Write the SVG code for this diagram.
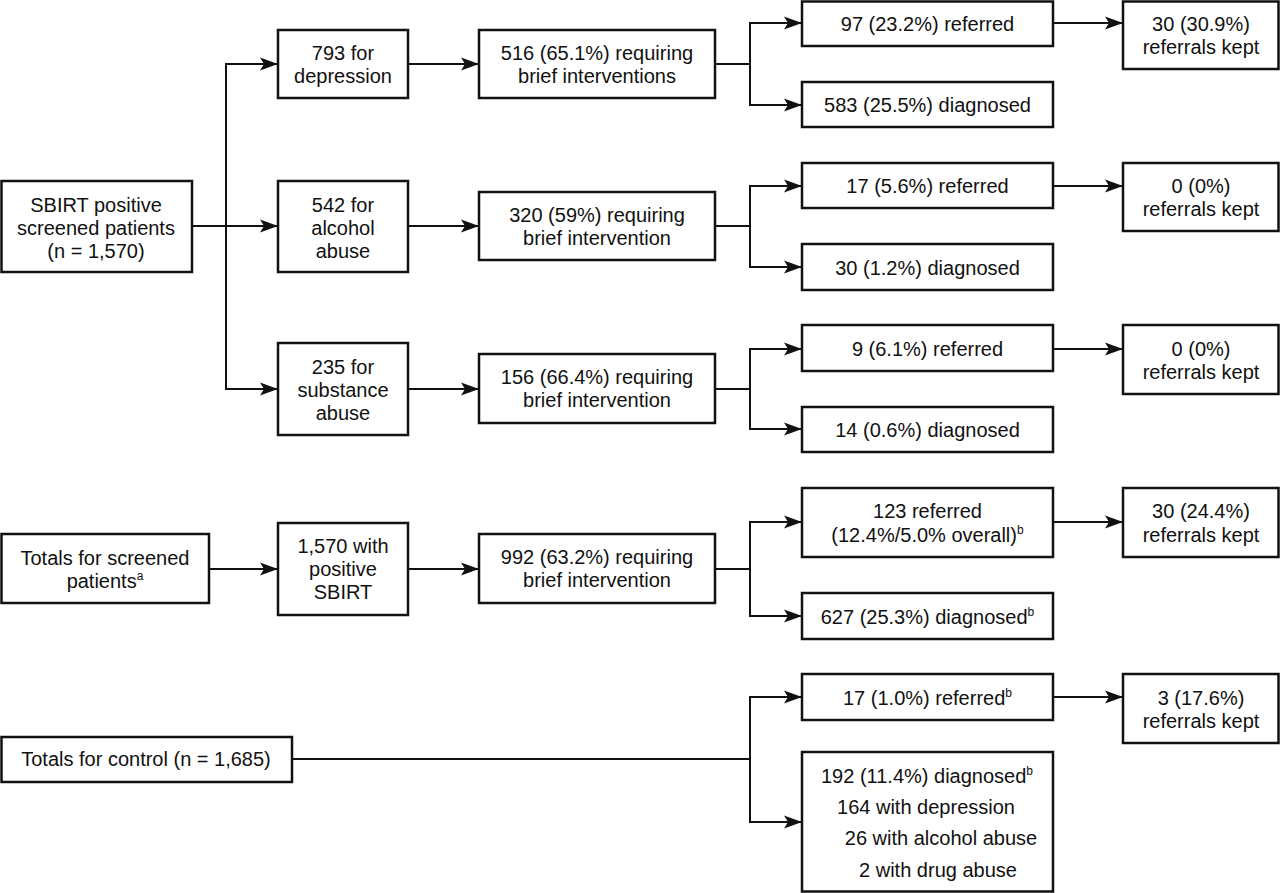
<svg xmlns="http://www.w3.org/2000/svg" width="1280" height="893" viewBox="0 0 1280 893">
<style>
.box{fill:#fff;stroke:#111;stroke-width:2.5}
.t{font-family:"Liberation Sans",Arial,sans-serif;font-size:20px;fill:#111;text-anchor:middle}
.c{fill:none;stroke:#111;stroke-width:2}
.a{fill:none;stroke:#111;stroke-width:2;marker-end:url(#ah)}
.sup{font-size:12px}
</style>
<defs>
<marker id="ah" markerUnits="userSpaceOnUse" markerWidth="19" markerHeight="14" refX="18" refY="7" orient="auto">
<path d="M0,0.5 L18,7 L0,13.5 L4,7 z" fill="#111"/>
</marker>
</defs>
<rect width="1280" height="893" fill="#fff"/>
<g id="connectors">
<path class="a" d="M192,226 H278"/>
<path class="c" stroke-linecap="square" d="M226,64 V389"/>
<path class="a" d="M226,64 H278"/>
<path class="a" d="M226,389 H278"/>
<path class="a" d="M209,569 H278"/>
<path class="a" d="M408,64 H479"/>
<path class="a" d="M408,226 H479"/>
<path class="a" d="M408,389 H479"/>
<path class="a" d="M408,569 H479"/>
<path class="c" d="M715,64 H750"/>
<path class="c" stroke-linecap="square" d="M750,23 V105"/>
<path class="a" d="M750,23 H802"/>
<path class="a" d="M750,105 H802"/>
<path class="c" d="M715,226 H750"/>
<path class="c" stroke-linecap="square" d="M750,186 V267"/>
<path class="a" d="M750,186 H802"/>
<path class="a" d="M750,267 H802"/>
<path class="c" d="M715,389 H750"/>
<path class="c" stroke-linecap="square" d="M750,349 V429"/>
<path class="a" d="M750,349 H802"/>
<path class="a" d="M750,429 H802"/>
<path class="c" d="M715,569 H750"/>
<path class="c" stroke-linecap="square" d="M750,522 V616"/>
<path class="a" d="M750,522 H802"/>
<path class="a" d="M750,616 H802"/>
<path class="c" d="M292,759 H750"/>
<path class="c" stroke-linecap="square" d="M750,697 V822"/>
<path class="a" d="M750,697 H802"/>
<path class="a" d="M750,822 H802"/>
<path class="a" d="M1053,23 H1123"/>
<path class="a" d="M1053,186 H1123"/>
<path class="a" d="M1053,349 H1123"/>
<path class="a" d="M1053,522 H1123"/>
<path class="a" d="M1053,697 H1123"/>
</g>
<g id="sbirt">
<rect class="box" x="1.5" y="181" width="190.5" height="91"/>
<text class="t" x="96"><tspan x="96" y="212">SBIRT positive</tspan><tspan x="96" y="235">screened patients</tspan><tspan x="96" y="258">(n = 1,570)</tspan></text>
</g>
<g id="depression">
<rect class="box" x="278" y="30" width="130" height="68"/>
<text class="t"><tspan x="343" y="60">793 for</tspan><tspan x="343" y="83">depression</tspan></text>
</g>
<g id="alcohol">
<rect class="box" x="278" y="181" width="130" height="91"/>
<text class="t"><tspan x="343" y="212">542 for</tspan><tspan x="343" y="235">alcohol</tspan><tspan x="343" y="258">abuse</tspan></text>
</g>
<g id="substance">
<rect class="box" x="278" y="343" width="130" height="92"/>
<text class="t"><tspan x="343" y="374">235 for</tspan><tspan x="343" y="397">substance</tspan><tspan x="343" y="420">abuse</tspan></text>
</g>
<g id="totals-screened">
<rect class="box" x="1.5" y="534" width="207.5" height="69"/>
<text class="t"><tspan x="105" y="565">Totals for screened</tspan><tspan x="105" y="588">patients<tspan class="sup" dy="-8">a</tspan></tspan></text>
</g>
<g id="positive-sbirt">
<rect class="box" x="278" y="523" width="130" height="92"/>
<text class="t"><tspan x="343" y="553">1,570 with</tspan><tspan x="343" y="576">positive</tspan><tspan x="343" y="599">SBIRT</tspan></text>
</g>
<g id="control">
<rect class="box" x="1.5" y="737" width="290.5" height="45"/>
<text class="t" x="146" y="766">Totals for control (n = 1,685)</text>
</g>
<g id="bi-depression">
<rect class="box" x="479" y="30" width="236" height="68"/>
<text class="t"><tspan x="597" y="60">516 (65.1%) requiring</tspan><tspan x="597" y="83">brief interventions</tspan></text>
</g>
<g id="bi-alcohol">
<rect class="box" x="479" y="192" width="236" height="68"/>
<text class="t"><tspan x="597" y="222">320 (59%) requiring</tspan><tspan x="597" y="245">brief intervention</tspan></text>
</g>
<g id="bi-substance">
<rect class="box" x="479" y="354" width="236" height="69"/>
<text class="t"><tspan x="597" y="384">156 (66.4%) requiring</tspan><tspan x="597" y="407">brief intervention</tspan></text>
</g>
<g id="bi-total">
<rect class="box" x="479" y="534" width="236" height="69"/>
<text class="t"><tspan x="597" y="564">992 (63.2%) requiring</tspan><tspan x="597" y="587">brief intervention</tspan></text>
</g>
<g id="ref-depression">
<rect class="box" x="802" y="1.5" width="251" height="44.5"/>
<text class="t" x="927.5" y="31">97 (23.2%) referred</text>
</g>
<g id="diag-depression">
<rect class="box" x="802" y="82" width="251" height="45"/>
<text class="t" x="927.5" y="112">583 (25.5%) diagnosed</text>
</g>
<g id="ref-alcohol">
<rect class="box" x="802" y="163" width="251" height="45"/>
<text class="t" x="927.5" y="193">17 (5.6%) referred</text>
</g>
<g id="diag-alcohol">
<rect class="box" x="802" y="244" width="251" height="46"/>
<text class="t" x="927.5" y="274.5">30 (1.2%) diagnosed</text>
</g>
<g id="ref-substance">
<rect class="box" x="802" y="325" width="251" height="46"/>
<text class="t" x="927.5" y="355.5">9 (6.1%) referred</text>
</g>
<g id="diag-substance">
<rect class="box" x="802" y="407" width="251" height="45"/>
<text class="t" x="927.5" y="437">14 (0.6%) diagnosed</text>
</g>
<g id="ref-total">
<rect class="box" x="802" y="488" width="251" height="69"/>
<text class="t"><tspan x="927.5" y="518">123 referred</tspan><tspan x="927.5" y="541.5">(12.4%/5.0% overall)<tspan class="sup" dy="-8">b</tspan></tspan></text>
</g>
<g id="diag-total">
<rect class="box" x="802" y="593" width="251" height="46"/>
<text class="t" x="927.5" y="623.5">627 (25.3%) diagnosed<tspan class="sup" dy="-8">b</tspan></text>
</g>
<g id="ref-control">
<rect class="box" x="802" y="674" width="251" height="46"/>
<text class="t" x="927.5" y="704.5">17 (1.0%) referred<tspan class="sup" dy="-8">b</tspan></text>
</g>
<g id="diag-control">
<rect class="box" x="802" y="752" width="251" height="139.5"/>
<text class="t"><tspan x="927" y="783">192 (11.4%) diagnosed<tspan class="sup" dy="-8">b</tspan></tspan><tspan x="926" y="814">164 with depression</tspan><tspan x="941" y="845">26 with alcohol abuse</tspan><tspan x="938" y="877">2 with drug abuse</tspan></text>
</g>
<g id="kept-depression">
<rect class="box" x="1123" y="1.5" width="155.5" height="67.5"/>
<text class="t"><tspan x="1201" y="31">30 (30.9%)</tspan><tspan x="1201" y="54">referrals kept</tspan></text>
</g>
<g id="kept-alcohol">
<rect class="box" x="1123" y="163" width="155.5" height="68"/>
<text class="t"><tspan x="1201" y="193">0 (0%)</tspan><tspan x="1201" y="216">referrals kept</tspan></text>
</g>
<g id="kept-substance">
<rect class="box" x="1123" y="325" width="155.5" height="69"/>
<text class="t"><tspan x="1201" y="355.5">0 (0%)</tspan><tspan x="1201" y="378.5">referrals kept</tspan></text>
</g>
<g id="kept-total">
<rect class="box" x="1123" y="488" width="155.5" height="69"/>
<text class="t"><tspan x="1201" y="518">30 (24.4%)</tspan><tspan x="1201" y="541.5">referrals kept</tspan></text>
</g>
<g id="kept-control">
<rect class="box" x="1123" y="674" width="155.5" height="69"/>
<text class="t"><tspan x="1201" y="704.5">3 (17.6%)</tspan><tspan x="1201" y="727.5">referrals kept</tspan></text>
</g>
</svg>
